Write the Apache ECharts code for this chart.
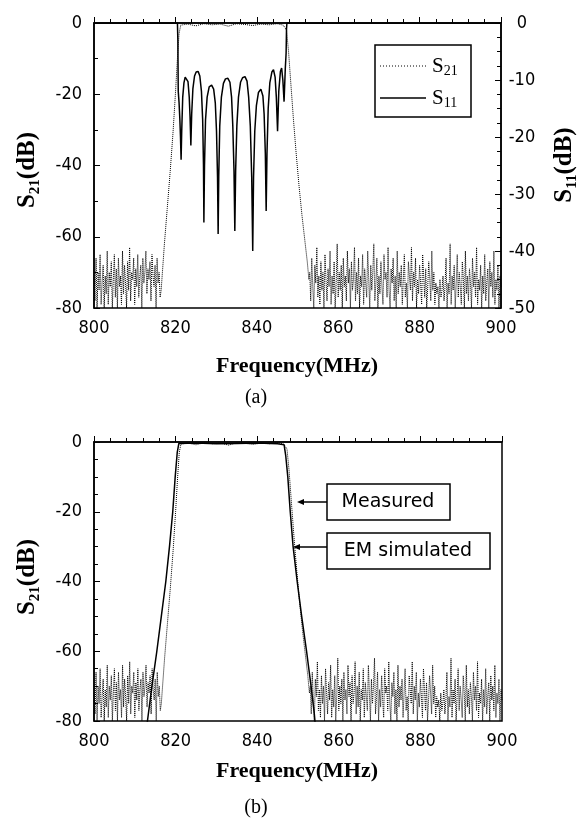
<!DOCTYPE html>
<html>
<head>
<meta charset="utf-8">
<script src="https://cdn.jsdelivr.net/npm/echarts@6.0.0/dist/echarts.min.js"></script>
<style>
html,body{margin:0;padding:0;background:#fff;}
#chart{width:581px;height:821px;}
</style>
</head>
<body>
<div id="chart"></div>
<script>
// ---------------- DATA ----------------
const xTicks = [800, 820, 840, 860, 880, 900];
const s21Ticks = [-80, -60, -40, -20, 0];
const s11Ticks = [-50, -40, -30, -20, -10, 0];

// measured S21 noise floor (sample grid: 0.25 MHz)
const noiseStep = 0.25;
const noiseLeftStart = 800;
const measNoiseLeft = [
  -72,-78,-66,-80,-70,-75,-65,-79,-73,-68,-80,-71,-76,-64,-79,-70,-74,-67,-80,-72,
  -65,-77,-69,-80,-66,-74,-71,-79,-64,-76,-68,-73,-80,-67,-75,-63,-78,-70,-72,-66,
  -79,-69,-74,-65,-77,-71,-68,-80,-66,-73,-70,-64,-76,-69,-72,-67,-78,-65,-71,-74,
  -68,-80,-66,-73,-70,-77,-75
];
const noiseRightStart = 853;
const measNoiseRight = [
  -70,-78,-66,-74,-80,-68,-73,-63,-77,-71,-79,-67,-75,-70,-80,-65,-72,-78,-69,-74,
  -64,-79,-71,-76,-67,-80,-73,-62,-77,-70,-75,-68,-80,-66,-74,-71,-78,-64,-73,-69,
  -80,-67,-75,-72,-63,-78,-70,-76,-66,-80,-71,-74,-65,-79,-69,-73,-77,-64,-72,-80,
  -68,-75,-70,-62,-78,-73,-66,-80,-71,-76,-67,-74,-79,-65,-72,-70,-77,-63,-75,-80,
  -69,-73,-66,-78,-71,-80,-64,-76,-70,-74,-68,-79,-72,-65,-77,-73,-80,-67,-71,-75,
  -63,-78,-70,-74,-66,-80,-72,-76,-68,-73,-79,-65,-71,-77,-69,-80,-74,-67,-72,-78,
  -64,-75,-70,-79,-73,-76,-74,-80,-72,-77,-75,-71,-78,-74,-66,-80,-73,-76,-62,-79,
  -71,-75,-68,-80,-73,-65,-77,-70,-74,-79,-67,-72,-80,-64,-76,-71,-78,-69,-73,-80,
  -66,-74,-70,-77,-63,-79,-72,-75,-68,-80,
  -71,-76,-65,-78,-73,-69,-80,-67,-74,-70,-77,-64,-79,-72,-75,-68,-80,-71,-74
];
// measured S21 skirts and passband
const measEdgeFreq = [816.8, 817.3, 818.0, 818.7, 819.4, 820.0, 820.5, 820.9, 821.3, 823, 825, 827, 829, 831, 833, 835, 837, 839, 841, 843, 845, 846.5, 847.3, 847.8, 848.3, 849.0, 849.7, 850.4, 851.1, 851.8, 852.4, 852.8];
const measEdgeVal  = [-75, -62, -52, -42, -31, -20, -10, -3, -0.6, -0.3, -0.8, -0.2, -0.5, -0.3, -0.9, -0.2, -0.4, -0.7, -0.3, -0.5, -0.2, -0.6, -2, -8, -16, -27, -37, -46, -54, -61, -67, -72];

// measured S11 (right axis, dB)
const s11Freq = [800, 820.5, 820.6, 820.7, 820.9, 821.1, 821.25, 821.4, 821.55, 821.8, 822.1, 822.4, 822.8, 823.1, 823.4, 823.6, 823.8, 824.0, 824.3, 824.7, 825.1, 825.6, 826.0, 826.4, 826.7, 826.9, 827.0, 827.15, 827.4, 827.8, 828.3, 828.9, 829.4, 829.8, 830.1, 830.35, 830.5, 830.65, 830.9, 831.3, 831.8, 832.3, 832.9, 833.4, 833.8, 834.1, 834.4, 834.6, 834.8, 835.1, 835.5, 836.0, 836.5, 837.1, 837.6, 838.0, 838.4, 838.75, 839.0, 839.2, 839.5, 839.9, 840.4, 841.0, 841.5, 841.8, 842.1, 842.3, 842.5, 842.8, 843.2, 843.7, 844.1, 844.5, 844.8, 845.1, 845.4, 845.8, 846.1, 846.4, 846.7, 847.0, 847.2, 847.3, 847.4, 900];
const s11Val  = [0, 0, -3, -12, -14, -17, -20, -24, -19, -13, -10.5, -9.5, -9.2, -10.3, -13, -16.5, -21.5, -16, -11.5, -9.3, -8.6, -8.5, -9.3, -12, -17, -25, -35, -25, -17, -13, -11.2, -10.9, -11.6, -14, -19, -27, -37, -27, -18, -13, -10.6, -9.8, -9.7, -10.4, -13, -18, -26, -36.5, -26, -18, -13, -10.4, -9.6, -9.4, -10.2, -13, -18, -27, -40, -27, -19, -14.5, -12.2, -11.6, -12.8, -16, -23, -33, -23, -15, -10.5, -8.6, -8.2, -9.5, -13, -19, -12, -8.5, -7.9, -10, -13.8, -8, -5.3, -1, 0, 0];

// EM simulated S21
const emFreq = [812.3, 813.1, 814.2, 815.4, 816.5, 817.6, 818.5, 819.3, 819.9, 820.4, 820.8, 825, 830, 835, 840, 845, 846.6, 847.0, 847.5, 848.1, 848.8, 849.8, 850.9, 852.1, 853.2, 854.0, 854.6];
const emVal  = [-86, -80, -70, -60, -50, -40, -30, -20, -10, -3, -0.4, -0.3, -0.5, -0.4, -0.3, -0.5, -0.8, -4, -10, -20, -30, -40, -50, -60, -70, -78, -86];

// ---------------- BUILD ----------------
function pairs(f, v) { return f.map((x, i) => [x, v[i]]); }
const measured = []
  .concat(measNoiseLeft.map((v, i) => [noiseLeftStart + i * noiseStep, v]))
  .concat(pairs(measEdgeFreq, measEdgeVal))
  .concat(measNoiseRight.map((v, i) => [noiseRightStart + i * noiseStep, v]));
const s11 = pairs(s11Freq, s11Val);
const em = pairs(emFreq, emVal);

const tickFont = '"DejaVu Sans Condensed","Liberation Sans Narrow",sans-serif';
const serif = '"Liberation Serif","Times New Roman",serif';
const BLACK = '#000';

function xAxisCfg(gi) {
  return {
    gridIndex: gi, type: 'value', min: xTicks[0], max: xTicks[xTicks.length - 1], interval: xTicks[1] - xTicks[0],
    axisLine: { show: true, lineStyle: { color: BLACK, width: 1.5 } },
    axisTick: { show: true, inside: true, length: 6, lineStyle: { color: BLACK, width: 1 } },
    minorTick: { show: true, splitNumber: 5, length: 4, lineStyle: { color: BLACK, width: 1 } },
    axisLabel: { color: BLACK, fontFamily: tickFont, fontSize: 18, margin: 11 },
    splitLine: { show: false }
  };
}
function yLeftCfg(gi, minorSplit) {
  return {
    gridIndex: gi, type: 'value', min: s21Ticks[0], max: s21Ticks[s21Ticks.length - 1], interval: s21Ticks[1] - s21Ticks[0],
    axisLine: { show: true, lineStyle: { color: BLACK, width: 1.5 } },
    axisTick: { show: true, inside: true, length: 6, lineStyle: { color: BLACK, width: 1 } },
    minorTick: { show: true, splitNumber: minorSplit, length: 4, lineStyle: { color: BLACK, width: 1 } },
    axisLabel: { color: BLACK, fontFamily: tickFont, fontSize: 18, margin: 12 },
    splitLine: { show: false }
  };
}

const option = {
  backgroundColor: '#fff',
  animation: false,
  grid: [
    { left: 94, top: 23, width: 407, height: 285, show: true, borderColor: BLACK, borderWidth: 1.5, backgroundColor: 'transparent' },
    { left: 94, top: 442, width: 408, height: 279, show: true, borderColor: BLACK, borderWidth: 1.5, backgroundColor: 'transparent' }
  ],
  xAxis: [xAxisCfg(0), xAxisCfg(1)],
  yAxis: [
    yLeftCfg(0, 2),
    {
      gridIndex: 0, type: 'value', position: 'right', min: s11Ticks[0], max: s11Ticks[s11Ticks.length - 1], interval: s11Ticks[1] - s11Ticks[0],
      axisLine: { show: true, lineStyle: { color: BLACK, width: 1.5 } },
      axisTick: { show: true, inside: true, length: 6, lineStyle: { color: BLACK, width: 1 } },
      minorTick: { show: true, splitNumber: 4, length: 4, lineStyle: { color: BLACK, width: 1 } },
      axisLabel: { color: BLACK, fontFamily: tickFont, fontSize: 18, margin: 21, align: 'center' },
      splitLine: { show: false }
    },
    yLeftCfg(1, 4)
  ],
  series: [
    { name: 'S21', type: 'line', xAxisIndex: 0, yAxisIndex: 0, data: measured, showSymbol: false, symbol: 'none',
      lineStyle: { color: BLACK, width: 1, type: 'dotted' } },
    { name: 'S11', type: 'line', xAxisIndex: 0, yAxisIndex: 1, data: s11, showSymbol: false, symbol: 'none',
      lineStyle: { color: BLACK, width: 1.5 } },
    { name: 'Measured', type: 'line', xAxisIndex: 1, yAxisIndex: 2, data: measured, showSymbol: false, symbol: 'none',
      lineStyle: { color: BLACK, width: 1, type: 'dotted' } },
    { name: 'EM simulated', type: 'line', xAxisIndex: 1, yAxisIndex: 2, data: em, showSymbol: false, symbol: 'none',
      lineStyle: { color: BLACK, width: 1.5 } }
  ],
  graphic: [
    // axis names
    { type: 'text', x: 28, y: 170, rotation: Math.PI / 2,
      style: { text: '{b|S}{s|21}{b|(dB)}', align: 'center', verticalAlign: 'middle',
        rich: { b: { font: 'bold 25px ' + serif, fill: BLACK, lineHeight: 30 },
                s: { font: 'bold 15px ' + serif, fill: BLACK, lineHeight: 16, padding: [14, 0, 0, 0] } } } },
    { type: 'text', x: 565, y: 165, rotation: Math.PI / 2,
      style: { text: '{b|S}{s|11}{b|(dB)}', align: 'center', verticalAlign: 'middle',
        rich: { b: { font: 'bold 25px ' + serif, fill: BLACK, lineHeight: 30 },
                s: { font: 'bold 15px ' + serif, fill: BLACK, lineHeight: 16, padding: [14, 0, 0, 0] } } } },
    { type: 'text', x: 28, y: 577, rotation: Math.PI / 2,
      style: { text: '{b|S}{s|21}{b|(dB)}', align: 'center', verticalAlign: 'middle',
        rich: { b: { font: 'bold 25px ' + serif, fill: BLACK, lineHeight: 30 },
                s: { font: 'bold 15px ' + serif, fill: BLACK, lineHeight: 16, padding: [14, 0, 0, 0] } } } },
    { type: 'text', x: 297, y: 366, style: { text: 'Frequency(MHz)', font: 'bold 22px ' + serif, fill: BLACK, align: 'center', verticalAlign: 'middle' } },
    { type: 'text', x: 297, y: 771, style: { text: 'Frequency(MHz)', font: 'bold 22px ' + serif, fill: BLACK, align: 'center', verticalAlign: 'middle' } },
    { type: 'text', x: 256, y: 398, style: { text: '(a)', font: '20px ' + serif, fill: BLACK, align: 'center', verticalAlign: 'middle' } },
    { type: 'text', x: 256, y: 808, style: { text: '(b)', font: '20px ' + serif, fill: BLACK, align: 'center', verticalAlign: 'middle' } },
    // legend (top)
    { type: 'rect', shape: { x: 375, y: 45, width: 96, height: 72 }, style: { fill: '#fff', stroke: BLACK, lineWidth: 1.5 }, z: 100 },
    { type: 'line', shape: { x1: 380, y1: 66, x2: 426, y2: 66 }, style: { stroke: BLACK, lineWidth: 1, lineDash: [1, 2] }, z: 101 },
    { type: 'line', shape: { x1: 380, y1: 98, x2: 426, y2: 98 }, style: { stroke: BLACK, lineWidth: 1.5 }, z: 101 },
    { type: 'text', x: 432, y: 66, z: 101,
      style: { text: '{b|S}{s|21}', verticalAlign: 'middle', align: 'left',
        rich: { b: { font: '21px ' + serif, fill: BLACK, lineHeight: 24 }, s: { font: '14px ' + serif, fill: BLACK, lineHeight: 14, padding: [10, 0, 0, 0] } } } },
    { type: 'text', x: 432, y: 98, z: 101,
      style: { text: '{b|S}{s|11}', verticalAlign: 'middle', align: 'left',
        rich: { b: { font: '21px ' + serif, fill: BLACK, lineHeight: 24 }, s: { font: '14px ' + serif, fill: BLACK, lineHeight: 14, padding: [10, 0, 0, 0] } } } },
    // annotations (bottom)
    { type: 'rect', shape: { x: 327, y: 484, width: 123, height: 36 }, style: { fill: '#fff', stroke: BLACK, lineWidth: 1.5 }, z: 100 },
    { type: 'text', x: 388, y: 502, z: 101, style: { text: 'Measured', font: '19px "DejaVu Sans",Verdana,sans-serif', fill: BLACK, align: 'center', verticalAlign: 'middle' } },
    { type: 'line', shape: { x1: 302, y1: 502, x2: 327, y2: 502 }, style: { stroke: BLACK, lineWidth: 1.5 }, z: 101 },
    { type: 'polygon', shape: { points: [[297, 502], [304, 499], [304, 505]] }, style: { fill: BLACK }, z: 101 },
    { type: 'rect', shape: { x: 327, y: 533, width: 163, height: 36 }, style: { fill: '#fff', stroke: BLACK, lineWidth: 1.5 }, z: 100 },
    { type: 'text', x: 408, y: 551, z: 101, style: { text: 'EM simulated', font: '19px "DejaVu Sans",Verdana,sans-serif', fill: BLACK, align: 'center', verticalAlign: 'middle' } },
    { type: 'line', shape: { x1: 298, y1: 547, x2: 327, y2: 547 }, style: { stroke: BLACK, lineWidth: 1.5 }, z: 101 },
    { type: 'polygon', shape: { points: [[293, 547], [300, 544], [300, 550]] }, style: { fill: BLACK }, z: 101 }
  ]
};

const chart = echarts.init(document.getElementById('chart'), null, { renderer: 'canvas' });
chart.setOption(option);
</script>
</body>
</html>
